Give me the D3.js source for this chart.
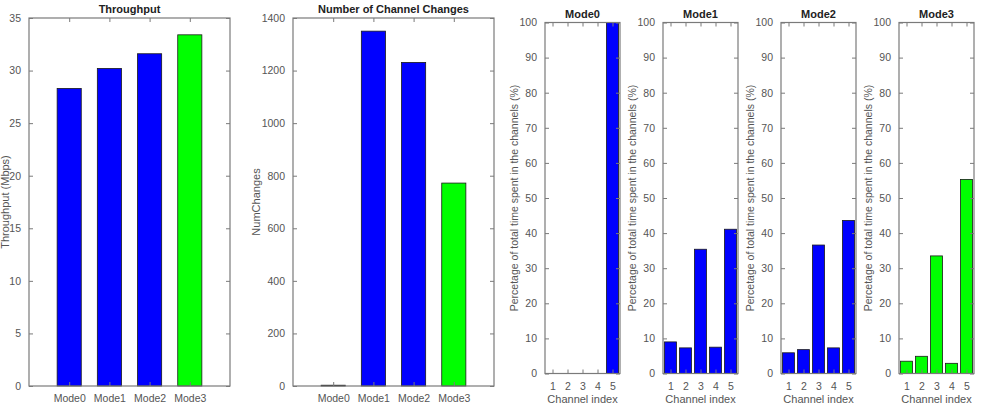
<!DOCTYPE html>
<html>
<head>
<meta charset="utf-8">
<script src="https://cdn.jsdelivr.net/npm/d3@7"></script>
<style>
body{margin:0;background:#fff;}
svg{display:block;font-family:"Liberation Sans",Arial,sans-serif;}
</style>
</head>
<body>
<svg id="chart" width="983" height="412"></svg>
<script>
'use strict';

// categories and values
var modes = ['Mode0','Mode1','Mode2','Mode3'];
var modeColors = ['#0000ff','#0000ff','#0000ff','#00ff00'];
var throughput = [28.3, 30.2, 31.6, 33.4];
var numChanges = [3, 1350, 1231, 772];
var channels = [1, 2, 3, 4, 5];
var mode0Time = [0, 0, 0, 0, 100];
var mode1Time = [9.0, 7.3, 35.4, 7.5, 41.1];
var mode2Time = [5.9, 6.8, 36.6, 7.3, 43.6];
var mode3Time = [3.5, 4.9, 33.5, 2.9, 55.3];
var throughputTicks = [0, 5, 10, 15, 20, 25, 30, 35];
var changesTicks = [0, 200, 400, 600, 800, 1000, 1200, 1400];
var percentTicks = [0, 10, 20, 30, 40, 50, 60, 70, 80, 90, 100];

var axisCol = '#7a7a7a';
var textCol = '#555';
var svg = d3.select('#chart');

//Draw one boxed axes with inward ticks on all four sides
var drawBox = function(box, x, y, xTicks, yTicks, xFmt){
	var g = svg.append('g');

	g.append('g').attr('transform','translate(0,' + box.bottom + ')')
		.call(d3.axisBottom(x).tickValues(xTicks).tickSizeInner(-4).tickSizeOuter(0).tickPadding(9).tickFormat(xFmt));
	g.append('g').attr('transform','translate(0,' + box.top + ')')
		.call(d3.axisTop(x).tickValues(xTicks).tickSizeInner(-4).tickSizeOuter(0).tickFormat(''));
	g.append('g').attr('transform','translate(' + box.left + ',0)')
		.call(d3.axisLeft(y).tickValues(yTicks).tickSizeInner(-4).tickSizeOuter(0).tickPadding(8).tickFormat(d3.format('d')));
	g.append('g').attr('transform','translate(' + box.right + ',0)')
		.call(d3.axisRight(y).tickValues(yTicks).tickSizeInner(-4).tickSizeOuter(0).tickFormat(''));

	g.selectAll('.domain').remove();
	g.selectAll('.tick line').attr('stroke',axisCol);
	g.selectAll('.tick text').attr('fill',textCol).attr('font-size','10.5px')
		.attr('font-family','"Liberation Sans",Arial,sans-serif');

	g.append('rect')
		.attr('x',box.left).attr('y',box.top)
		.attr('width',box.right - box.left).attr('height',box.bottom - box.top)
		.attr('fill','none').attr('stroke',axisCol).attr('stroke-width',1.2);
	return g;
};

var addTitle = function(text, cx, yPos){
	svg.append('text').attr('x',cx).attr('y',yPos).attr('text-anchor','middle')
		.attr('font-size','11px').attr('font-weight','bold').attr('fill','#222').text(text);
};

var addYLabel = function(text, xPos, cy, size){
	svg.append('text').attr('transform','translate(' + xPos + ',' + cy + ') rotate(-90)')
		.attr('text-anchor','middle').attr('font-size',size).attr('fill',textCol).text(text);
};

//Big mode panels
var bigPanel = function(box, values, ticks, yMax, title, yLabel, labelX){
	var x = d3.scaleLinear().domain([0, 5]).range([box.left, box.right]);
	var y = d3.scaleLinear().domain([0, yMax]).range([box.bottom, box.top]);
	var bw = x(0.6) - x(0);

	svg.append('g').selectAll('rect').data(values).enter().append('rect')
		.attr('x',function(d,i){ return x(i + 1) - bw / 2; })
		.attr('y',function(d){ return y(d); })
		.attr('width',bw)
		.attr('height',function(d){ return y(0) - y(d); })
		.attr('fill',function(d,i){ return modeColors[i]; })
		.attr('stroke','#1a1a1a').attr('stroke-width',0.8);

	drawBox(box, x, y, [1, 2, 3, 4], ticks, function(d){ return modes[d - 1]; });
	addTitle(title, (box.left + box.right) / 2, 13);
	addYLabel(yLabel, labelX, (box.top + box.bottom) / 2, '11px');
};

bigPanel({left:29, right:230, top:18, bottom:386}, throughput, throughputTicks, 35,
	'Throughput', 'Throughput (Mbps)', 9);
bigPanel({left:293, right:494, top:18, bottom:386}, numChanges, changesTicks, 1400,
	'Number of Channel Changes', 'NumChanges', 260);

//Small channel panels
var smallData = [mode0Time, mode1Time, mode2Time, mode3Time];
var smallLefts = [545, 663, 781, 899];

for(var i=0; i<smallData.length; i++){
	var box = {left:smallLefts[i], right:smallLefts[i] + 75, top:22.5, bottom:373.5};
	var x = d3.scaleLinear().domain([0.5, 5.5]).range([box.left, box.right]);
	var y = d3.scaleLinear().domain([0, 100]).range([box.bottom, box.top]);
	var bw = x(0.8) - x(0);
	var col = modeColors[i];

	svg.append('g').selectAll('rect').data(smallData[i]).enter().append('rect')
		.attr('x',function(d,j){ return x(channels[j]) - bw / 2; })
		.attr('y',function(d){ return y(d); })
		.attr('width',bw)
		.attr('height',function(d){ return y(0) - y(d); })
		.attr('fill',col)
		.attr('display',function(d){ return d > 0 ? null : 'none'; })
		.attr('stroke','#1a1a1a').attr('stroke-width',0.8);

	drawBox(box, x, y, channels, percentTicks, d3.format('d'));
	addTitle(modes[i], (box.left + box.right) / 2, 18);
	addYLabel('Percetage of total time spent in the channels (%)', box.left - 27, (box.top + box.bottom) / 2, '10.5px');
	svg.append('text').attr('x',(box.left + box.right) / 2).attr('y',403)
		.attr('text-anchor','middle').attr('font-size','11px').attr('fill',textCol).text('Channel index');
}
</script>
</body>
</html>
